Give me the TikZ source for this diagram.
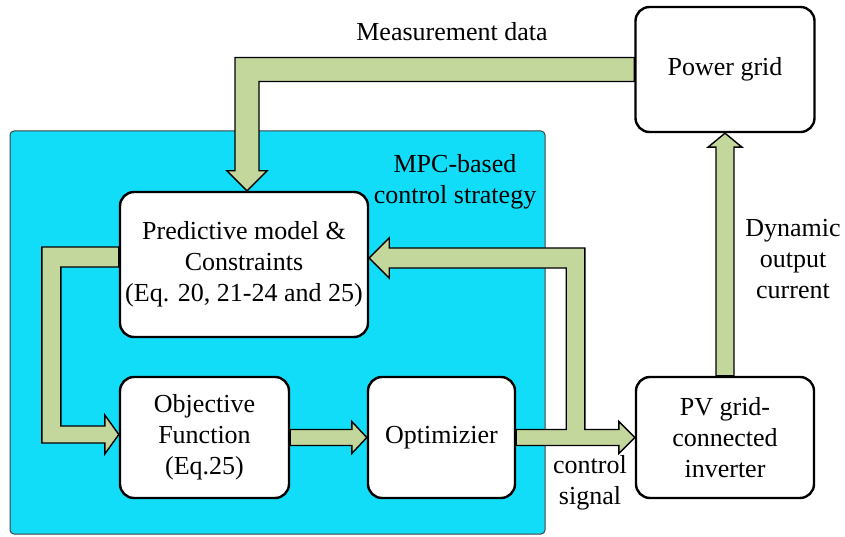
\documentclass[tikz,border=0pt]{standalone}
\usepackage{fontspec}
\setmainfont{Liberation Serif}
\usepackage{tikz}
\usetikzlibrary{calc,backgrounds}

\definecolor{mpccyan}{RGB}{18,221,249}
\definecolor{flowgreen}{RGB}{195,214,155}

\begin{document}
\begin{tikzpicture}[x=1pt,y=1pt,
  font=\fontsize{26}{31}\selectfont,
  block/.style={draw,line width=2.4pt,rounded corners=14pt,fill=white,align=center,inner sep=2pt},
  fat/.style={draw,line width=1.4pt,fill=flowgreen,line join=miter}]
\useasboundingbox (0,0) rectangle (845,536);

\node[block,minimum width=179pt,minimum height=125pt] (grid) at (725,466.5) {Power grid};
\node[block,minimum width=248pt,minimum height=145pt] (pred) at (244,271.5) {Predictive model \&\\Constraints\\(Eq. 20, 21-24 and 25)};
\node[block,minimum width=169pt,minimum height=121pt] (obj) at (204.5,98.5) {Objective\\Function\\(Eq.25)};
\node[block,minimum width=147pt,minimum height=121pt] (opt) at (441.5,98.5) {Optimizier};
\node[block,minimum width=178pt,minimum height=121pt] (pv) at (725,98.5) {PV grid-\\connected\\inverter};

\node (meas) at (452,504) {Measurement data};
\node[align=center] (mpc) at (455,354) {MPC-based\\control strategy};
\node[align=center] (dyn) at (793,277) {Dynamic\\output\\current};
\node[align=center] (ctrl) at (590,53) {control\\signal};

\begin{pgfonlayer}{background}
\draw[draw=black!75,line width=1pt,fill=mpccyan,rounded corners=4pt] (10,2) rectangle (545,405);

\path[fat] ($(grid.west)+(0,12)$) -| ($(pred.north)+(-9,20)$) -- ++(-8,0) -- ($(pred.north)+(3,0)$)
  -- ++(20,20) -- ++(-8,0) |- ($(grid.west)+(0,-12)$) -- cycle;
\path[fat] ($(pred.west)+(0,17.5)$) -| ($(obj.west)+(-77,-5.5)$) -- ++(63,0) -- ++(0,-11)
  -- ($(obj.west)+(0,3)$) -- ++(-14,19.5) -- ++(0,-11) -| ($(pred.west)+(-58,-2.5)$)
  -- ($(pred.west)+(0,-2.5)$) -- cycle;
\path[fat] ($(obj.east)+(0,8)$) -- ($(opt.west)+(-15,8)$) -- ++(0,8) -- (opt.west)
  -- ++(-15,-16) -- ++(0,8) -- ($(obj.east)+(0,-8)$) -- cycle;
\path[fat] ($(opt.east)+(0,8)$) -- ++(50,0) |- ($(pred.east)+(20,-3.5)$) -- ++(0,-10)
  -- ($(pred.east)+(0,6.5)$) -- ++(20,20) -- ++(0,-10) -| ($(pv.west)+(-50,8)$)
  -- ++(34,0) -- ++(0,8) -- (pv.west) -- ++(-16,-16) -- ++(0,8) -- ($(opt.east)+(0,-8)$) -- cycle;
\path[fat] ($(pv.north)+(-9,0)$) -- ($(grid.south)+(-9,-14)$) -- ++(-8,0) -- (grid.south)
  -- ++(17,-14) -- ++(-8,0) -- ($(pv.north)+(9,0)$) -- cycle;
\end{pgfonlayer}
\end{tikzpicture}
\end{document}
